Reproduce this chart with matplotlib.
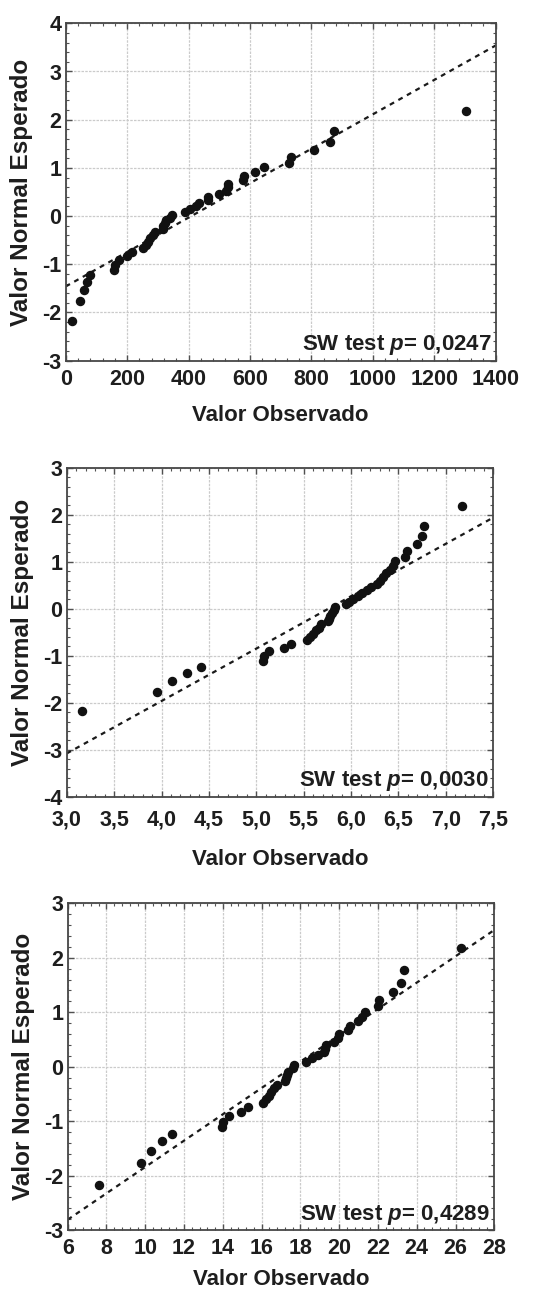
import matplotlib
matplotlib.use("Agg")
import matplotlib.pyplot as plt
from matplotlib.ticker import MultipleLocator, AutoMinorLocator, FuncFormatter

plt.rcParams['font.family'] = ['Liberation Sans', 'DejaVu Sans']
plt.rcParams['font.weight'] = 'bold'
plt.rcParams['mathtext.fontset'] = 'custom'
plt.rcParams['mathtext.it'] = 'Liberation Sans:italic:bold'
plt.rcParams['mathtext.rm'] = 'Liberation Sans:bold'

# Expected normal values (same ranks in the three panels)
expected = [-2.18, -1.77, -1.54, -1.37, -1.23, -1.11, -1.01, -0.91, -0.83, -0.75,
            -0.67, -0.60, -0.53, -0.46, -0.40, -0.33, -0.27, -0.21, -0.15, -0.09,
            -0.03, 0.03, 0.09, 0.15, 0.21, 0.27, 0.33, 0.40, 0.46, 0.53,
            0.60, 0.67, 0.75, 0.83, 0.91, 1.01, 1.11, 1.23, 1.37, 1.54,
            1.77, 2.18]

# Observed values, panel 1
obs1 = [22, 48, 58, 68, 80, 158, 162, 172, 198, 215,
        252, 260, 268, 276, 284, 292, 316, 318, 322, 327,
        340, 345, 388, 405, 425, 435, 462, 464, 500, 522,
        527, 530, 578, 580, 615, 645, 728, 732, 810, 862,
        874, 1302]
# panel 2
obs2 = [3.16, 3.95, 4.11, 4.27, 4.42, 5.07, 5.08, 5.13, 5.29, 5.37,
        5.53, 5.57, 5.60, 5.63, 5.66, 5.68, 5.76, 5.77, 5.78, 5.80,
        5.82, 5.83, 5.95, 5.98, 6.02, 6.07, 6.11, 6.17, 6.21, 6.27,
        6.31, 6.34, 6.37, 6.41, 6.44, 6.46, 6.57, 6.59, 6.69, 6.75,
        6.77, 7.17]
# panel 3
obs3 = [7.6, 9.8, 10.3, 10.85, 11.4, 13.95, 14.0, 14.3, 14.95, 15.3,
        16.05, 16.25, 16.4, 16.5, 16.65, 16.8, 17.2, 17.25, 17.3, 17.35,
        17.6, 17.65, 18.3, 18.6, 18.9, 19.2, 19.25, 19.3, 19.75, 19.95,
        20.0, 20.45, 20.55, 20.95, 21.2, 21.35, 22.0, 22.05, 22.8, 23.2,
        23.35, 26.3]

# reference lines: (x_start, y_start, x_end, y_end)
ref1 = (0, -1.46, 1400, 3.54)
ref2 = (3.0, -3.08, 7.5, 1.94)
ref3 = (6, -2.81, 28, 2.51)

p_values = ["0,0247", "0,0030", "0,4289"]
xlims = [(0, 1400), (3.0, 7.5), (6, 28)]
ylims = [(-3, 4), (-4, 3), (-3, 3)]
xsteps = [200, 0.5, 2]

W, H = 559, 1295
# axes boxes in pixels: left, top, right, bottom
boxes = [(65.7, 23.3, 495.7, 360.7),
         (66.7, 467.7, 493.3, 796.7),
         (67.7, 903.3, 494.3, 1230.0)]
tick_pads = [6, 9.5, 6]
label_pads = [11, 13, 7]

fig = plt.figure(figsize=(W / 100, H / 100), dpi=100)
txt = '#1e1e1e'

panels = [(obs1, ref1), (obs2, ref2), (obs3, ref3)]
for i, (obs, ref) in enumerate(panels):
    l, t, r, b = boxes[i]
    ax = fig.add_axes([l / W, 1 - b / H, (r - l) / W, (b - t) / H])
    ax.set_xlim(*xlims[i])
    ax.set_ylim(*ylims[i])
    ax.xaxis.set_major_locator(MultipleLocator(xsteps[i]))
    ax.yaxis.set_major_locator(MultipleLocator(1))
    ax.xaxis.set_minor_locator(AutoMinorLocator(5))
    ax.yaxis.set_minor_locator(AutoMinorLocator(5))
    if i == 1:
        ax.xaxis.set_major_formatter(FuncFormatter(lambda v, p: f"{v:.1f}".replace('.', ',')))
    else:
        ax.xaxis.set_major_formatter(FuncFormatter(lambda v, p: f"{v:.0f}"))
    ax.yaxis.set_major_formatter(FuncFormatter(lambda v, p: f"{v:.0f}"))

    ax.grid(True, which='major', color='#cbcbcb', lw=0.9, linestyle=(0, (2, 1)))
    ax.set_axisbelow(True)

    ax.plot([ref[0], ref[2]], [ref[1], ref[3]], color='#1a1a1a', lw=1.6,
            dashes=(2.2, 2.2), zorder=2, clip_on=True)
    ax.plot(obs, expected, 'o', color='#111111', ms=5.8, zorder=3, clip_on=False)

    for s in ax.spines.values():
        s.set_color('#474747')
        s.set_linewidth(1.3)
    ax.tick_params(which='both', direction='in', top=True, right=True,
                   colors='#505050', labelcolor=txt, labelsize=15.5)
    ax.tick_params(axis='y', which='major', pad=3)
    ax.tick_params(axis='x', which='major', pad=tick_pads[i])
    ax.tick_params(which='major', length=4, width=1)
    ax.tick_params(which='minor', length=2.5, width=0.8)
    for lab in ax.get_xticklabels() + ax.get_yticklabels():
        lab.set_fontweight('bold')

    ax.set_xlabel("Valor Observado", fontsize=16, fontweight='bold', color=txt,
                  labelpad=label_pads[i])
    ax.set_ylabel("Valor Normal Esperado", fontsize=17.5, fontweight='bold', color=txt)
    ax.yaxis.set_label_coords(-0.076, 0.5)

    ax.text(0.99, 0.01, "SW test $p$= " + p_values[i], transform=ax.transAxes,
            ha='right', va='bottom', fontsize=16, fontweight='bold', color=txt)

fig.savefig("out.png", dpi=100)
